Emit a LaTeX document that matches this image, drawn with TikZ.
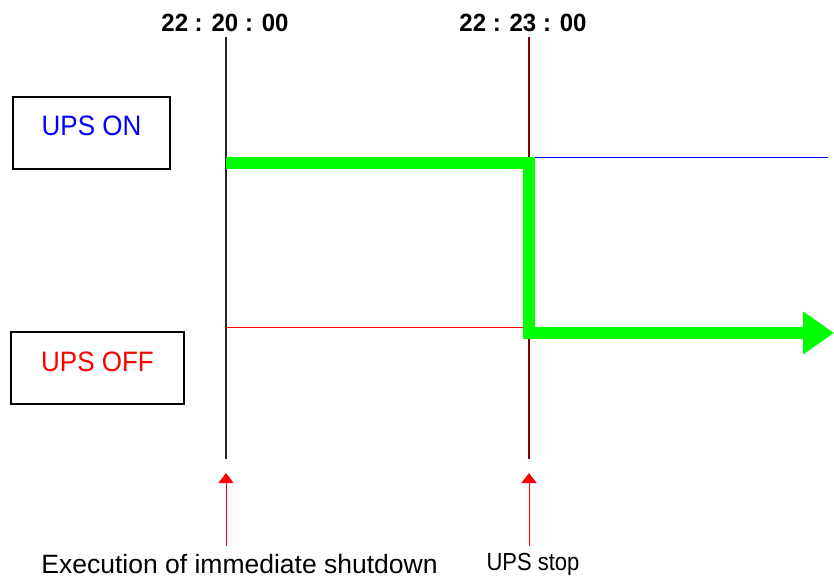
\documentclass[tikz,border=0pt]{standalone}
\usepackage{fontspec}
\setmainfont{Liberation Sans}
\usetikzlibrary{
  arrows.meta,
  positioning
}
\definecolor{upsgreen}{RGB}{0,255,0}
\definecolor{stopred}{RGB}{128,0,0}
\tikzset{%
  x=1pt, y=-1pt,
  timelabel/.style={font=\fontsize{24}{28}\selectfont\bfseries, inner sep=0pt},
  statebox/.style={draw, line width=1.5pt, inner sep=0pt,
    minimum width=157pt, minimum height=72pt, font=\fontsize{26}{30}\selectfont},
  note/.style={inner sep=0pt},
  timeline/.style={line width=1.3pt},
  levelline/.style={line width=1.3pt},
  upspath/.style={draw=upsgreen, line width=12pt, line join=miter,
    -{Triangle[length=31pt, width=41pt]}},
  markarrow/.style={draw=red, line width=1pt, -{Triangle[length=10pt, width=15pt]}}
}

\begin{document}
\begin{tikzpicture}
  \useasboundingbox[fill=white] (0,0) rectangle (834,581);
  % time stamps
  \node [timelabel] (t1) at (225,23) {\scalebox{1}[1.04]{22 : 20 : 00}};
  \node [timelabel] (t2) at (523,23) {\scalebox{1}[1.04]{22 : 23 : 00}};
  % state boxes
  \node [statebox, text=blue] (on) at (91.5,133) {\raisebox{15pt}{\scalebox{1}[1.08]{UPS ON}}};
  \node [statebox, minimum width=173pt, text=red] (off) at (97.5,368) {\raisebox{12pt}{\scalebox{1}[1.08]{UPS OFF}}};
  % labels below
  \node [note, font=\fontsize{26.5}{30}\selectfont] (exec) at (239.5,564) {Execution of immediate shutdown};
  \node [note, font=\fontsize{22}{26}\selectfont] (stop) at (533,564) {\scalebox{1}[1.12]{UPS stop}};
  % vertical time lines
  \coordinate (v1top) at (226,37);
  \coordinate (v1bot) at (226,459);
  \coordinate (v2top) at (529,37);
  \coordinate (v2bot) at (529,459);
  \draw [timeline, black!85] (v1top) -- (v1bot);
  \draw [timeline, stopred] (v2top) -- (v2bot);
  % on / off levels
  \coordinate (onstart) at (529,157.5);
  \coordinate (onend) at (828,157.5);
  \coordinate (offstart) at (226,327.3);
  \coordinate (offend) at (524,327.3);
  \draw [levelline, draw=blue] (onstart) -- (onend);
  \draw [levelline, draw=red] (offstart) -- (offend);
  % UPS state
  \coordinate (g1) at (226,163);
  \coordinate (g2) at (529,333);
  \coordinate (g3) at (834,333);
  \draw [upspath] (g1) -| (g2) -- (g3);
  % event markers
  \coordinate (a1) at (226,546);
  \coordinate (a1tip) at (226,473);
  \coordinate (a2) at (529,546);
  \coordinate (a2tip) at (529,473);
  \draw [markarrow] (a1) -- (a1tip);
  \draw [markarrow] (a2) -- (a2tip);
\end{tikzpicture}
\end{document}
